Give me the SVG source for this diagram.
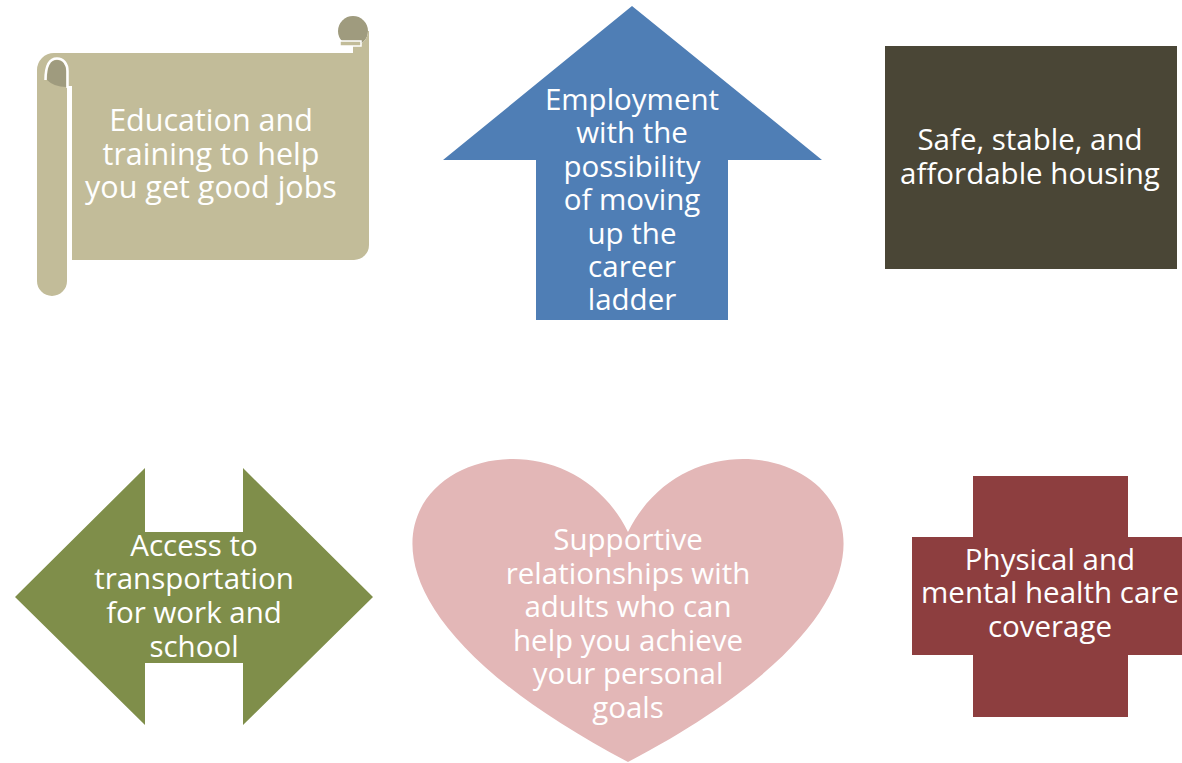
<svg xmlns="http://www.w3.org/2000/svg" width="1182" height="763" viewBox="0 0 1182 763">
<style>
.t{font-family:"Open Sans","Noto Sans","Liberation Sans",sans-serif;font-size:29.5px;fill:#ffffff;text-anchor:middle}
.tan{fill:#C2BC99}
.tand{fill:#9F9B7E}
</style>
<rect width="1182" height="763" fill="#ffffff"/>
<g id="connectors"/>
<g id="node-education">
<path class="tan" d="M70,53 H369 V245 A15,15 0 0 1 354,260 H70 Z"/>
<path class="tan" d="M37,70 A17,17 0 0 1 54,53 H72 V90 H67 V281 A15,15 0 0 1 37,281 Z"/>
<path class="tand" d="M47,80 C47,65 51,60 57,60 C63,60 66,65 66,71 V87 Q54,87 47,80 Z"/>
<path d="M45.5,80 C45.5,64 50.5,58.5 57,58.5 C63.5,58.5 67.5,64 67.5,71 V88" fill="none" stroke="#ffffff" stroke-width="2.5"/>
<rect x="67" y="86" width="5" height="178" fill="#ffffff"/>
<circle class="tand" cx="353" cy="31" r="15"/>
<path class="tan" d="M369,31 V53 H353 V46 A15,15 0 0 0 368,31 Z"/>
<rect class="tan" x="340" y="41" width="21" height="5" stroke="#ffffff" stroke-width="1.5"/>
<text class="t" style="font-size:30.5px"><tspan x="211" y="131">Education and</tspan><tspan x="211" y="165">training to help</tspan><tspan x="211" y="198">you get good jobs</tspan></text>
</g>
<g id="node-employment">
<path d="M632,6 L822,160 H728 V320 H536 V160 H443 Z" fill="#4F7EB5"/>
<text class="t"><tspan x="632" y="110">Employment</tspan><tspan x="632" y="143.4">with the</tspan><tspan x="632" y="176.8">possibility</tspan><tspan x="632" y="210.2">of moving</tspan><tspan x="632" y="243.6">up the</tspan><tspan x="632" y="277">career</tspan><tspan x="632" y="310.4">ladder</tspan></text>
</g>
<g id="node-housing">
<rect x="885" y="46" width="292" height="223" fill="#4A4636"/>
<text class="t"><tspan x="1030" y="150">Safe, stable, and</tspan><tspan x="1030" y="183.5">affordable housing</tspan></text>
</g>
<g id="node-transportation">
<path d="M15,597 L145,468 V532 H243 V468 L373,597 L243,725 V663 H145 V725 Z" fill="#7F8E4A"/>
<text class="t"><tspan x="194" y="555.7">Access to</tspan><tspan x="194" y="589.3">transportation</tspan><tspan x="194" y="623">for work and</tspan><tspan x="194" y="656.5">school</tspan></text>
</g>
<g id="node-relationships">
<path d="M628,532 C717.2,352.8 1064.9,532 628,762 C191.1,532 538.8,352.8 628,532 Z" fill="#E3B7B7"/>
<text class="t"><tspan x="628" y="550">Supportive</tspan><tspan x="628" y="583.6">relationships with</tspan><tspan x="628" y="617.2">adults who can</tspan><tspan x="628" y="650.8">help you achieve</tspan><tspan x="628" y="684.4">your personal</tspan><tspan x="628" y="718">goals</tspan></text>
</g>
<g id="node-health">
<path d="M973,476 H1128 V537 H1189 V655 H1128 V717 H973 V655 H912 V537 H973 Z" fill="#8D3E3F"/>
<text class="t"><tspan x="1050" y="570">Physical and</tspan><tspan x="1050" y="603.4">mental health care</tspan><tspan x="1050" y="636.8">coverage</tspan></text>
</g>
</svg>
